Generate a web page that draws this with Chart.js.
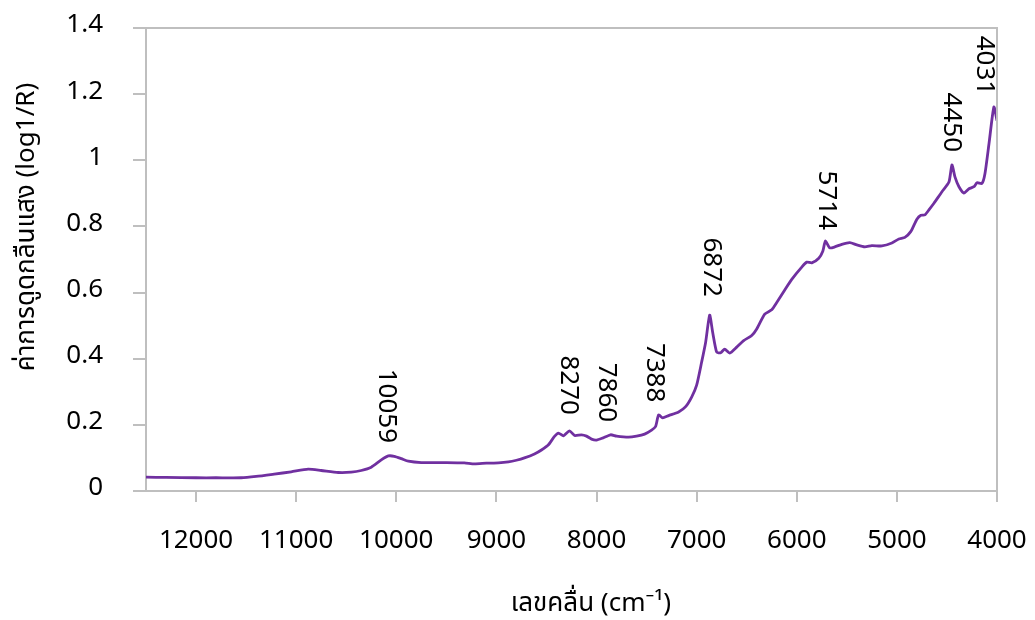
<!DOCTYPE html>
<html>
<head>
<meta charset="utf-8">
<script src="https://cdn.jsdelivr.net/npm/chart.js@4.4.1/dist/chart.umd.min.js"></script>
<style>
  html, body { margin: 0; padding: 0; background: #fff; }
  #wrap { width: 1035px; height: 620px; position: relative; }
</style>
</head>
<body>
<div id="wrap"><canvas id="nirChart"></canvas></div>
<script>
// NIR spectrum - wavenumber (cm-1) vs absorbance log(1/R)
const wavenumbers = [
  12500, 12300, 12000, 11800, 11550, 11400, 11220, 11050, 10880, 10750,
  10580, 10450, 10350, 10250, 10150, 10080, 10020, 9950, 9880, 9750,
  9500, 9320, 9220, 9100, 8980, 8880, 8800, 8720, 8620, 8550,
  8480, 8420, 8380, 8330, 8270, 8220, 8150, 8100, 8050, 8000,
  7940, 7860, 7800, 7680, 7600, 7520, 7450, 7410, 7380, 7340,
  7280, 7180, 7110, 7050, 7000, 6950, 6910, 6870, 6840, 6800,
  6760, 6720, 6670, 6600, 6530, 6450, 6400, 6320, 6250, 6200,
  6120, 6050, 5950, 5900, 5850, 5780, 5740, 5714, 5670, 5620,
  5550, 5470, 5400, 5320, 5250, 5150, 5050, 4980, 4920, 4860,
  4800, 4760, 4720, 4680, 4630, 4550, 4480, 4450, 4420, 4380,
  4330, 4280, 4230, 4200, 4150, 4120, 4080, 4031, 4000
];
const absorbance = [
  0.042, 0.041, 0.040, 0.040, 0.040, 0.044, 0.051, 0.058, 0.066, 0.062,
  0.056, 0.057, 0.062, 0.072, 0.094, 0.106, 0.105, 0.098, 0.090, 0.086,
  0.086, 0.085, 0.082, 0.084, 0.085, 0.088, 0.093, 0.100, 0.112, 0.124,
  0.140, 0.165, 0.175, 0.167, 0.182, 0.168, 0.170, 0.166, 0.157, 0.154,
  0.160, 0.170, 0.166, 0.163, 0.166, 0.172, 0.184, 0.195, 0.230, 0.221,
  0.228, 0.239, 0.255, 0.284, 0.320, 0.390, 0.450, 0.532, 0.480, 0.420,
  0.418, 0.429, 0.417, 0.435, 0.455, 0.470, 0.490, 0.535, 0.548, 0.570,
  0.608, 0.640, 0.677, 0.692, 0.690, 0.704, 0.725, 0.756, 0.735, 0.738,
  0.746, 0.751, 0.744, 0.738, 0.742, 0.741, 0.750, 0.762, 0.767, 0.785,
  0.822, 0.834, 0.835, 0.850, 0.870, 0.905, 0.934, 0.986, 0.950, 0.920,
  0.901, 0.914, 0.920, 0.932, 0.930, 0.960, 1.050, 1.161, 1.120
];

// peak labels: text, anchor wavenumber, anchor value (bottom end of the text)
const peakLabels = ['10059', '8270', '7860', '7388', '6872', '5714', '4450', '4031'];
const peakX = [10100, 8280, 7900, 7420, 6850, 5700, 4460, 4130];
const peakY = [0.145, 0.230, 0.208, 0.268, 0.587, 0.789, 1.025, 1.197];

const xTicks = [12000, 11000, 10000, 9000, 8000, 7000, 6000, 5000, 4000];

const xTitle = 'เลขคลื่น (cm⁻¹)';
const yTitle = 'ค่าการดูดกลืนแสง (log1/R)';

const FONT = "'Noto Sans', 'Open Sans', 'Noto Sans Thai', Loma, Garuda, sans-serif";
const FONT_SIZE = 26;
const AXIS_GREY = '#bfbfbf';

// draws the top/right frame, axis titles and rotated peak labels
const annotatePlugin = {
  id: 'annotate',
  afterDatasetsDraw(chart) {
    const ctx = chart.ctx;
    const area = chart.chartArea;
    const xs = chart.scales.x, ys = chart.scales.y;
    ctx.save();
    ctx.strokeStyle = AXIS_GREY;
    ctx.lineWidth = 2;
    ctx.beginPath();
    ctx.moveTo(area.left, area.top);
    ctx.lineTo(area.right, area.top);
    ctx.lineTo(area.right, area.bottom);
    ctx.stroke();

    ctx.fillStyle = '#000';
    ctx.font = FONT_SIZE + 'px ' + FONT;
    ctx.textAlign = 'right';
    ctx.textBaseline = 'middle';
    peakLabels.forEach((txt, i) => {
      const px = xs.getPixelForValue(peakX[i]);
      const py = ys.getPixelForValue(peakY[i]);
      ctx.save();
      ctx.translate(px, py);
      ctx.rotate(Math.PI / 2);
      ctx.fillText(txt, 0, 0);
      ctx.restore();
    });

    // axis titles
    ctx.textAlign = 'center';
    ctx.fillText(xTitle, area.left + 445, area.bottom + 113);
    ctx.save();
    ctx.translate(27, area.top + 199);
    ctx.rotate(-Math.PI / 2);
    ctx.fillText(yTitle, 0, 0);
    ctx.restore();
    ctx.restore();
  }
};

new Chart(document.getElementById('nirChart'), {
  type: 'scatter',
  data: {
    datasets: [{
      data: wavenumbers.map((w, i) => ({ x: w, y: absorbance[i] })),
      showLine: true,
      borderColor: '#7030a0',
      borderWidth: 2.8,
      pointRadius: 0,
      tension: 0.2
    }]
  },
  options: {
    responsive: true,
    maintainAspectRatio: false,
    animation: false,
    layout: { padding: { top: 28, left: 0, right: 38, bottom: 0 } },
    plugins: {
      legend: { display: false },
      tooltip: { enabled: false }
    },
    scales: {
      x: {
        type: 'linear',
        reverse: true,
        min: 4000,
        max: 12500,
        afterBuildTicks(axis) {
          axis.ticks = xTicks.map(v => ({ value: v }));
        },
        afterFit(axis) {
          axis.height = 129;
          axis.paddingLeft = 0;
          axis.paddingRight = 0;
        },
        grid: { drawOnChartArea: false, drawTicks: true, tickLength: 11, color: AXIS_GREY, lineWidth: 2 },
        border: { color: AXIS_GREY, width: 2 },
        ticks: {
          color: '#000',
          font: { family: FONT, size: FONT_SIZE },
          padding: 23,
          maxRotation: 0,
          autoSkip: false,
          callback: v => String(v)
        }
      },
      y: {
        min: 0,
        max: 1.4,
        afterFit(axis) {
          axis.width = 146;
          axis.paddingTop = 0;
          axis.paddingBottom = 0;
        },
        ticks: {
          stepSize: 0.2,
          color: '#000',
          font: { family: FONT, size: FONT_SIZE },
          padding: 30,
          labelOffset: -3,
          callback: v => String(Math.round(v * 10) / 10)
        },
        grid: { drawOnChartArea: false, drawTicks: true, tickLength: 13, color: AXIS_GREY, lineWidth: 2 },
        border: { color: AXIS_GREY, width: 2 }
      }
    }
  },
  plugins: [annotatePlugin]
});
</script>
</body>
</html>
